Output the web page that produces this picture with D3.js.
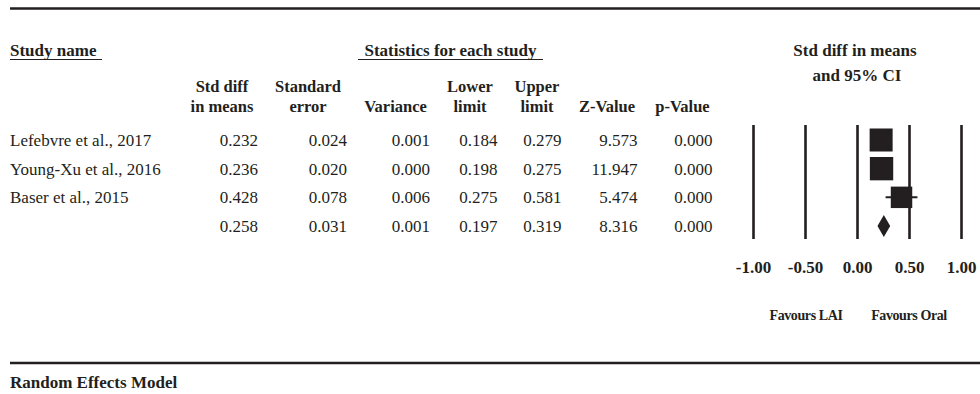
<!DOCTYPE html>
<html>
<head>
<meta charset="utf-8">
<script src="https://cdn.jsdelivr.net/npm/d3@7/dist/d3.min.js"></script>
<style>
  html, body { margin: 0; padding: 0; background: #fff; }
  svg { display: block; font-family: "Liberation Serif", "Times New Roman", serif; }
</style>
</head>
<body>
<svg id="chart" width="980" height="394"></svg>
<script>
// Forest plot data: one row per study plus the pooled estimate
const studies = ["Lefebvre et al., 2017", "Young-Xu et al., 2016", "Baser et al., 2015", ""];
const stdDiff = [0.232, 0.236, 0.428, 0.258];
const stdErr  = [0.024, 0.020, 0.078, 0.031];
const variance = [0.001, 0.000, 0.006, 0.001];
const lower = [0.184, 0.198, 0.275, 0.197];
const upper = [0.279, 0.275, 0.581, 0.319];
const zValue = [9.573, 11.947, 5.474, 8.316];
const pValue = [0.000, 0.000, 0.000, 0.000];
const relWeight = [34.5, 35.5, 30.0];
const axisTicks = [-1.00, -0.50, 0.00, 0.50, 1.00];
const columnHeaders = [["Std diff", "in means"], ["Standard", "error"], ["", "Variance"],
  ["Lower", "limit"], ["Upper", "limit"], ["", "Z-Value"], ["", "p-Value"]];
const favoursLabels = ["Favours LAI", "Favours Oral"];

const ink = "#231f20";
const svg = d3.select("#chart");

// horizontal rules
svg.append("line").attr("x1", 10).attr("x2", 980).attr("y1", 8.5).attr("y2", 8.5)
  .attr("stroke", ink).attr("stroke-width", 2.5);
svg.append("line").attr("x1", 10).attr("x2", 980).attr("y1", 363).attr("y2", 363)
  .attr("stroke", ink).attr("stroke-width", 2.5);

function label(x, y, text, opts = {}) {
  return svg.append("text")
    .attr("x", x).attr("y", y).attr("dy", "0.35em")
    .attr("text-anchor", opts.anchor || "start")
    .attr("font-size", opts.size || 17)
    .attr("font-weight", opts.bold ? "bold" : "normal")
    .attr("letter-spacing", opts.ls || 0)
    .attr("fill", ink)
    .text(text);
}

// group headers with underlines
label(10, 50, "Study name", { bold: true });
svg.append("line").attr("x1", 10).attr("x2", 102).attr("y1", 59.5).attr("y2", 59.5)
  .attr("stroke", ink).attr("stroke-width", 1.2);
label(450.5, 50, "Statistics for each study", { bold: true, anchor: "middle" });
svg.append("line").attr("x1", 358).attr("x2", 543).attr("y1", 59.5).attr("y2", 59.5)
  .attr("stroke", ink).attr("stroke-width", 1.2);
label(855, 50, "Std diff in means", { bold: true, anchor: "middle", size: 17 });
label(857, 75, "and 95% CI", { bold: true, anchor: "middle", size: 17 });

// column headers
const headerCenters = [222, 308, 395.5, 470, 537, 607, 682.5];
columnHeaders.forEach((h, i) => {
  if (h[0]) label(headerCenters[i], 86, h[0], { bold: true, anchor: "middle", size: 16.5 });
  label(headerCenters[i], 106, h[1], { bold: true, anchor: "middle", size: 16.5 });
});

// numeric table
const rowY = d3.scalePoint().domain(d3.range(studies.length)).range([140, 226]);
const colRight = [258, 347, 430, 497.5, 561.5, 637.5, 712.5];
const columns = [stdDiff, stdErr, variance, lower, upper, zValue, pValue];
const fmt = d3.format(".3f");
studies.forEach((s, i) => {
  if (s) label(10, rowY(i), s, { size: 17 });
  columns.forEach((col, c) => label(colRight[c], rowY(i), fmt(col[i]), { anchor: "end", size: 17 }));
});

// forest panel
const x = d3.scaleLinear().domain([-1, 1]).range([753, 961]);
const gridTop = 125, gridBottom = 239;
const tickFmt = d => d3.format(".2f")(d).replace("\u2212", "-");
const axis = d3.axisBottom(x).tickValues(axisTicks).tickFormat(tickFmt)
  .tickSize(-(gridBottom - gridTop)).tickPadding(22);
const ag = svg.append("g").attr("transform", `translate(0,${gridBottom})`).call(axis);
ag.select(".domain").remove();
ag.selectAll(".tick line").attr("stroke", ink).attr("stroke-width", 2.6);
ag.selectAll(".tick text").attr("fill", ink).attr("font-size", 17).attr("font-weight", "bold")
  .attr("font-family", "'Liberation Serif', 'Times New Roman', serif")
  .attr("y", 267 - gridBottom).attr("dy", "0.35em");

// study squares with confidence intervals
const boxSize = d3.scaleSqrt().domain([0, 36]).range([0, 23.5]);
const studyIdx = d3.range(relWeight.length);
svg.selectAll("line.ci").data(studyIdx).join("line").attr("class", "ci")
  .attr("x1", i => x(lower[i])).attr("x2", i => x(upper[i]))
  .attr("y1", i => rowY(i)).attr("y2", i => rowY(i))
  .attr("stroke", ink).attr("stroke-width", 2);
svg.selectAll("rect.box").data(studyIdx).join("rect").attr("class", "box")
  .attr("x", i => x(stdDiff[i]) - boxSize(relWeight[i]) / 2)
  .attr("y", i => rowY(i) - boxSize(relWeight[i]) / 2)
  .attr("width", i => boxSize(relWeight[i]))
  .attr("height", i => boxSize(relWeight[i]))
  .attr("fill", ink);

// pooled estimate diamond
const p = 3, dh = 11;
svg.append("path")
  .attr("d", `M${x(lower[p])},${rowY(p)} L${x(stdDiff[p])},${rowY(p) - dh} L${x(upper[p])},${rowY(p)} L${x(stdDiff[p])},${rowY(p) + dh} Z`)
  .attr("fill", ink);

// direction labels
label(806, 315, favoursLabels[0], { bold: true, anchor: "middle", size: 14, ls: -0.4 });
label(909, 315, favoursLabels[1], { bold: true, anchor: "middle", size: 14, ls: -0.4 });

// model footer
label(10, 382, "Random Effects Model", { bold: true, size: 17 });
</script>
</body>
</html>
